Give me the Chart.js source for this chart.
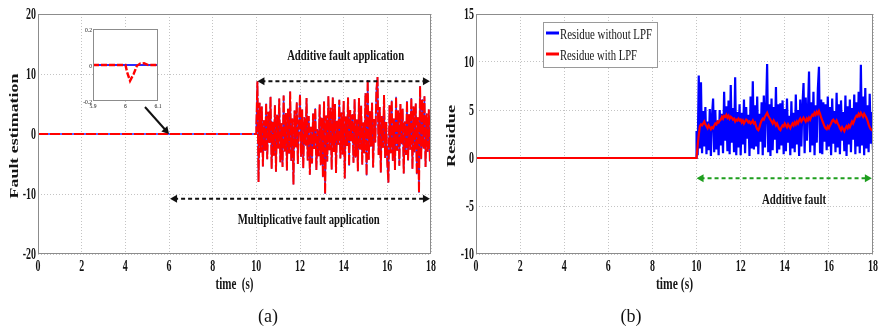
<!DOCTYPE html>
<html>
<head>
<meta charset="utf-8">
<script src="https://cdn.jsdelivr.net/npm/chart.js@4.4.1/dist/chart.umd.min.js"></script>
<style>
  body { margin: 0; background: #fff; width: 879px; height: 331px; overflow: hidden; position: relative; }
  canvas { position: absolute; }
  #chartA { left: 0; top: 0; }
  #chartB { left: 440px; top: 0; }
  #inset { left: 78px; top: 26px; }
  .cap { position: absolute; top: 307px; width: 40px; text-align: center; font: 18px "Liberation Serif", serif; line-height: 18px; color: #111; }
</style>
</head>
<body>
<canvas id="chartA" width="440" height="331"></canvas>
<canvas id="inset" width="84" height="88"></canvas>
<canvas id="chartB" width="439" height="331"></canvas>
<div class="cap" style="left:248px">(a)</div>
<div class="cap" style="left:611px">(b)</div>
<script>
/* ====== data ===== */
const baseTimes = [0, 10];
const baseValues = [0, 0];
const sampleStep = 0.05;   // sampling of the faulty part, from t = 10 s

// (a) fault estimation, 10..18 s
const faultEst = [
  1.5, 8.8, -8.0, 5.2, -3.1, 4.6, -5.4, 2.3, -2.8, 5.1,
  -4.2, 3.7, -1.5, 6.2, -5.8, 2.1, -3.6, 4.8, -6.3, 3.2,
  -2.4, 5.9, -4.7, 1.8, -5.5, 6.4, -2.9, 3.5, -6.1, 4.2,
  -3.3, 7.1, -4.5, 2.6, -8.4, 3.9, -2.2, 5.3, -5.0, 1.4,
  6.6, -3.8, 4.1, -5.7, 2.8, -1.9, 6.0, -4.4, 3.0, -6.8,
  1.2, -4.9, 3.4, -2.5, 4.3, -6.0, 0.8, -3.7, 4.9, -5.2,
  2.7, -7.2, 5.4, -10.0, 3.1, -4.6, 6.3, -2.7, 4.4, -5.9,
  6.1, -3.0, 5.0, -6.5, 2.2, -1.8, 5.7, -4.1, 3.6, -3.4,
  5.5, -7.4, 2.9, -2.0, 6.1, -5.3, 4.0, -1.2, 3.3, -4.8,
  5.8, -3.9, 2.4, -6.2, 6.0, -2.6, 4.7, -5.1, 1.9, -3.2,
  6.8, -6.9, 9.0, -4.3, 3.8, -2.1, 5.2, -5.6, 2.5, -1.4,
  7.4, 9.5, -3.5, 4.5, -6.4, 3.0, -2.3, 6.5, -4.0, 2.0,
  -5.0, -8.1, 4.8, -3.2, 5.6, -4.5, 2.6, -6.0, 6.2, -2.8,
  3.9, -5.3, 5.0, -1.7, 4.2, -6.6, 2.1, -3.5, 5.5, -4.4,
  3.3, -2.6, 6.0, -5.8, 4.6, -3.1, 5.1, -6.7, 2.8, -9.8,
  8.0, -4.2, 5.8, -2.4, 6.3, -5.5, 3.4, -3.0, 4.1, -4.6,
  2.2
];
// the actual fault lies under the estimate
const faultTrue = faultEst;

// inset (zoom around t = 6 s)
const insetTimesTrue = [5.9, 6.1];
const insetTrue = [0, 0];
const insetTimesEst = [5.9, 6.0, 6.005, 6.014, 6.025, 6.035, 6.045, 6.057, 6.07, 6.1];
const insetEst = [0, 0, -0.04, -0.088, -0.05, -0.005, 0.008, 0.01, 0, 0];

// (b) residues, 10..18 s
const residueRaw = [
  2.8, 0.3, 8.6, 1.0, 7.9, 0.5, 4.9, 1.2, 5.3, 0.4,
  3.8, 0.8, 5.1, 0.2, 4.4, 6.2, 0.6, 5.0, 0.9, 3.9,
  0.3, 5.0, 1.3, 4.6, 0.5, 6.9, 1.8, 5.4, 0.7, 6.0,
  0.4, 7.6, 1.6, 5.2, 0.6, 8.4, 0.3, 4.8, 1.1, 5.6,
  0.3, 4.7, 1.4, 6.1, 0.5, 5.3, 2.0, 4.5, 0.2, 6.4,
  1.0, 8.0, 0.9, 5.5, 1.2, 6.4, 0.4, 4.6, 1.7, 5.8,
  0.3, 6.5, 1.1, 4.9, 9.8, 0.6, 5.6, 0.2, 6.2, 0.8,
  5.3, 1.9, 7.4, 0.5, 5.6, 0.9, 5.7, 1.3, 6.0, 0.4,
  5.1, 0.7, 6.2, 1.6, 4.4, 0.3, 5.9, 1.0, 4.7, 0.6,
  6.6, 1.4, 5.0, 0.2, 6.1, 1.2, 5.4, 7.8, 0.5, 6.3,
  1.8, 4.9, 9.0, 0.6, 5.8, 1.3, 6.9, 0.3, 5.5, 1.6,
  7.2, 9.5, 0.5, 6.1, 0.4, 5.8, 1.7, 5.6, 0.8, 6.4,
  1.2, 5.3, 0.3, 6.2, 1.5, 4.9, 0.6, 6.8, 1.1, 5.6,
  0.4, 6.0, 1.8, 4.8, 0.7, 6.5, 0.2, 5.4, 1.4, 6.1,
  0.6, 5.2, 1.9, 6.6, 0.4, 5.8, 1.2, 6.9, 0.5, 9.7,
  1.3, 6.4, 0.3, 7.3, 1.0, 5.5, 0.6, 6.7, 1.5, 4.8,
  0.8
];
const residueLPF = [
  0, 1.3, 2.4, 3.3, 3.5, 3.4, 3.6, 3.8, 3.5, 3.3,
  3.1, 3.4, 3.2, 3.0, 3.2, 3.1, 3.4, 3.6, 3.5, 3.8,
  3.7, 3.9, 4.0, 4.3, 4.1, 4.4, 4.3, 4.5, 4.2, 4.4,
  4.1, 4.3, 4.2, 4.0, 4.1, 3.8, 4.0, 3.9, 4.1, 3.9,
  4.0, 3.7, 3.9, 3.6, 3.8, 4.0, 3.9, 3.7, 3.8, 3.6,
  3.7, 3.9, 3.6, 3.7, 3.3, 3.0, 2.9, 3.2, 3.6, 3.9,
  4.1, 4.0, 4.3, 4.5, 4.7, 4.4, 4.2, 4.0, 3.8, 3.6,
  3.9, 3.7, 3.4, 3.6, 3.3, 3.0, 2.9, 3.2, 3.4, 3.3,
  3.6, 3.4, 3.2, 3.5, 3.3, 3.1, 3.4, 3.6, 3.4, 3.7,
  3.5, 3.8, 3.6, 3.9, 4.1, 3.8, 4.0, 4.2, 4.0, 3.8,
  4.1, 3.9, 4.2, 4.0, 4.3, 4.5, 4.4, 4.7, 4.5, 4.8,
  4.6, 4.9, 4.6, 4.2, 3.9, 3.6, 3.3, 3.1, 3.0, 3.3,
  3.1, 3.4, 3.6, 3.9, 4.0, 3.8, 3.7, 3.9, 3.6, 3.4,
  3.1, 2.9, 3.2, 3.0, 2.8, 3.1, 3.3, 3.1, 3.4, 3.2,
  3.5, 3.8, 3.6, 3.9, 4.2, 4.4, 4.3, 4.6, 4.4, 4.7,
  4.5, 4.3, 4.6, 4.4, 4.2, 3.9, 3.5, 3.2, 3.0, 2.9,
  3.0
];

const xTickStep = 2;

/* ====== helpers ===== */
const pts = (ts, vs) => ts.map((t, i) => ({x: t, y: vs[i]}));
const sampled = vs => pts(vs.map((_, i) => 10 + i * sampleStep), vs);
const withBase = vs => pts(baseTimes, baseValues).concat(sampled(vs));
const fmt = v => String(Number(v.toFixed(3)));

function txt(ctx, s, x, y, o) {
  ctx.save();
  ctx.translate(x, y);
  if (o.rot) ctx.rotate(o.rot);
  ctx.font = (o.bold ? 'bold ' : '') + o.size + 'px "Liberation Serif", serif';
  let sx = o.sx || 1;
  if (o.w) sx = o.w / ctx.measureText(s).width;
  ctx.scale(sx, 1);
  ctx.textAlign = o.align || 'center';
  ctx.textBaseline = o.base || 'alphabetic';
  ctx.fillStyle = o.color || '#151515';
  ctx.fillText(s, 0, 0);
  ctx.restore();
}

function head(ctx, x, y, dir, color) {
  ctx.beginPath();
  ctx.moveTo(x, y);
  ctx.lineTo(x - dir * 7, y - 4);
  ctx.lineTo(x - dir * 7, y + 4);
  ctx.closePath();
  ctx.fillStyle = color;
  ctx.fill();
}

const decoPlugin = {
  id: 'deco',
  beforeDraw(chart, args, o) {
    if (!o.white) return;
    const a = chart.chartArea, ctx = chart.ctx;
    ctx.save();
    ctx.fillStyle = '#fff';
    ctx.fillRect(a.left, a.top, a.width, a.height);
    ctx.restore();
  },
  afterDraw(chart, args, o) {
    if (!o.tick) return;
    const ctx = chart.ctx, a = chart.chartArea;
    const xs = chart.scales.x, ys = chart.scales.y;

    // frame
    ctx.save();
    ctx.strokeStyle = '#8c8c8c';
    ctx.lineWidth = 1;
    ctx.strokeRect(Math.round(a.left) + 0.5, Math.round(a.top) + 0.5,
                   Math.round(a.width) - 1, Math.round(a.height) - 1);
    ctx.restore();

    // tick labels from the scales
    const tk = o.tick;
    xs.ticks.forEach(t => txt(ctx, fmt(t.value), xs.getPixelForValue(t.value), a.bottom + tk.xGap,
      {size: tk.size, bold: tk.bold, sx: tk.sx}));
    ys.ticks.forEach(t => txt(ctx, fmt(t.value), a.left - tk.yGap, ys.getPixelForValue(t.value) + 1,
      {size: tk.size, bold: tk.bold, sx: tk.sx, align: 'right', base: 'middle'}));

    // axis titles
    if (o.xTitle) txt(ctx, o.xTitle.text, (a.left + a.right) / 2, a.bottom + o.xTitle.gap,
      {size: o.xTitle.size, bold: true, w: o.xTitle.w});
    if (o.yTitle) txt(ctx, o.yTitle.text, o.yTitle.x, o.yTitle.y,
      {size: o.yTitle.size, bold: true, w: o.yTitle.w, rot: -Math.PI / 2, base: 'middle'});

    // double arrows
    (o.arrows || []).forEach(ar => {
      const x1 = xs.getPixelForValue(ar.t1), x2 = xs.getPixelForValue(ar.t2);
      const y = ys.getPixelForValue(ar.v);
      ctx.save();
      ctx.strokeStyle = ar.color;
      ctx.lineWidth = 2;
      ctx.setLineDash([4, 3]);
      ctx.beginPath();
      ctx.moveTo(x1 + 4, y);
      ctx.lineTo(x2 - 4, y);
      ctx.stroke();
      ctx.setLineDash([]);
      head(ctx, x1, y, -1, ar.color);
      head(ctx, x2, y, 1, ar.color);
      ctx.restore();
    });

    // pointer arrow
    if (o.pointer) {
      const p = o.pointer;
      const x1 = xs.getPixelForValue(p.t1), y1 = ys.getPixelForValue(p.v1);
      const x2 = xs.getPixelForValue(p.t2), y2 = ys.getPixelForValue(p.v2);
      const ang = Math.atan2(y2 - y1, x2 - x1);
      ctx.save();
      ctx.strokeStyle = '#111';
      ctx.lineWidth = 2;
      ctx.beginPath();
      ctx.moveTo(x1, y1);
      ctx.lineTo(x2 - 6 * Math.cos(ang), y2 - 6 * Math.sin(ang));
      ctx.stroke();
      ctx.translate(x2, y2);
      ctx.rotate(ang);
      head(ctx, 0, 0, 1, '#111');
      ctx.restore();
    }

    // notes
    (o.notes || []).forEach(n => txt(ctx, n.text, xs.getPixelForValue(n.t), ys.getPixelForValue(n.v),
      {size: n.size, bold: true, w: n.w}));

    // legend box
    if (o.legend) {
      const L = o.legend;
      const lx = a.left + L.dx, ly = a.top + L.dy;
      ctx.save();
      ctx.fillStyle = '#fff';
      ctx.fillRect(lx, ly, L.w, L.h);
      ctx.strokeStyle = '#9a9a9a';
      ctx.lineWidth = 1;
      ctx.strokeRect(lx + 0.5, ly + 0.5, L.w, L.h);
      chart.data.datasets.forEach((ds, i) => {
        const y = ly + L.row0 + i * L.rowGap;
        ctx.strokeStyle = ds.borderColor;
        ctx.lineWidth = 3;
        ctx.beginPath();
        ctx.moveTo(lx + 3, y);
        ctx.lineTo(lx + 16, y);
        ctx.stroke();
        txt(ctx, ds.label, lx + 17, y + 6, {size: 15, w: L.textW[i], align: 'left'});
      });
      ctx.restore();
    }
  }
};
Chart.register(decoPlugin);

function baseOptions(xmin, xmax, xstep, ymin, ymax, ystep, pad, yW, xH, grid, deco) {
  return {
    responsive: false,
    animation: false,
    events: [],
    layout: {padding: pad},
    plugins: {legend: {display: false}, tooltip: {enabled: false}, deco: deco},
    scales: {
      x: {
        type: 'linear', min: xmin, max: xmax,
        ticks: {stepSize: xstep, display: false},
        grid: {display: grid, color: '#c4c4c4', drawTicks: false},
        border: {display: false, dash: [1, 2]},
        afterFit: s => { s.height = xH; }
      },
      y: {
        min: ymin, max: ymax,
        ticks: {stepSize: ystep, display: false},
        grid: {display: grid, color: '#c4c4c4', drawTicks: false},
        border: {display: false, dash: [1, 2]},
        afterFit: s => { s.width = yW; }
      }
    }
  };
}

/* ====== chart (a) ===== */
const chartA = new Chart(document.querySelector('#chartA'), {
  type: 'line',
  data: {
    datasets: [
      {
        label: 'Estimated fault',
        data: withBase(faultEst),
        borderColor: '#ff0000',
        borderWidth: 2,
        borderDash: [10, 2],
        pointRadius: 0,
        tension: 0,
        order: 0
      },
      {
        label: 'Actual fault',
        data: withBase(faultTrue),
        borderColor: '#2b2bff',
        borderWidth: 1.4,
        pointRadius: 0,
        tension: 0,
        order: 1
      }
    ]
  },
  options: baseOptions(0, 18, xTickStep, -20, 20, 10, {left: 0, top: 14, right: 9, bottom: 0}, 38, 77, true, {
    tick: {size: 16, bold: true, sx: 0.62, xGap: 17, yGap: 2},
    xTitle: {text: 'time  (s)', gap: 35, size: 16, w: 38},
    yTitle: {text: 'Fault estimation', x: 14.5, y: 136, size: 13, w: 125},
    arrows: [
      {t1: 10.05, t2: 17.95, v: 8.8, color: '#111'},
      {t1: 6.05, t2: 17.95, v: -10.8, color: '#111'}
    ],
    pointer: {t1: 4.9, v1: 4.5, t2: 6.0, v2: 0},
    notes: [
      {text: 'Additive fault application', t: 14.09, v: 12.3, size: 15, w: 117},
      {text: 'Multiplicative fault application', t: 12.4, v: -15.0, size: 15, w: 142}
    ]
  })
});

/* ====== inset ===== */
const inset = new Chart(document.querySelector('#inset'), {
  type: 'line',
  data: {
    datasets: [
      {
        label: 'Estimated fault',
        data: pts(insetTimesEst, insetEst),
        borderColor: '#ff0000',
        borderWidth: 2.4,
        borderDash: [6, 2],
        pointRadius: 0,
        order: 0
      },
      {
        label: 'Actual fault',
        data: pts(insetTimesTrue, insetTrue),
        borderColor: '#2b2bff',
        borderWidth: 2,
        pointRadius: 0,
        order: 1
      }
    ]
  },
  options: baseOptions(5.9, 6.1, 0.1, -0.2, 0.2, 0.2, {left: 0, top: 3, right: 4, bottom: 0}, 15, 13, false, {
    white: true,
    tick: {size: 7, bold: false, sx: 0.8, xGap: 7, yGap: 1}
  })
});

/* ====== chart (b) ===== */
const chartB = new Chart(document.querySelector('#chartB'), {
  type: 'line',
  data: {
    datasets: [
      {
        label: 'Residue without LPF',
        data: withBase(residueRaw),
        borderColor: '#0000ff',
        borderWidth: 2.2,
        pointRadius: 0,
        tension: 0,
        order: 1
      },
      {
        label: 'Residue with LPF',
        data: withBase(residueLPF),
        borderColor: '#ff0000',
        borderWidth: 2.2,
        pointRadius: 0,
        tension: 0,
        order: 0
      }
    ]
  },
  options: baseOptions(0, 18, xTickStep, -10, 15, 5, {left: 0, top: 14, right: 6, bottom: 0}, 36, 77, true, {
    tick: {size: 16, bold: true, sx: 0.62, xGap: 17, yGap: 2},
    xTitle: {text: 'time (s)', gap: 35, size: 16, w: 37},
    yTitle: {text: 'Residue', x: 11.5, y: 136, size: 13, w: 62},
    arrows: [
      {t1: 10.0, t2: 17.95, v: -2.1, color: '#1e9e1e'}
    ],
    notes: [
      {text: 'Additive fault', t: 14.42, v: -4.8, size: 15, w: 64}
    ],
    legend: {dx: 67, dy: 8, w: 114, h: 45, row0: 11, rowGap: 21, textW: [92, 77]}
  })
});
</script>
</body>
</html>
